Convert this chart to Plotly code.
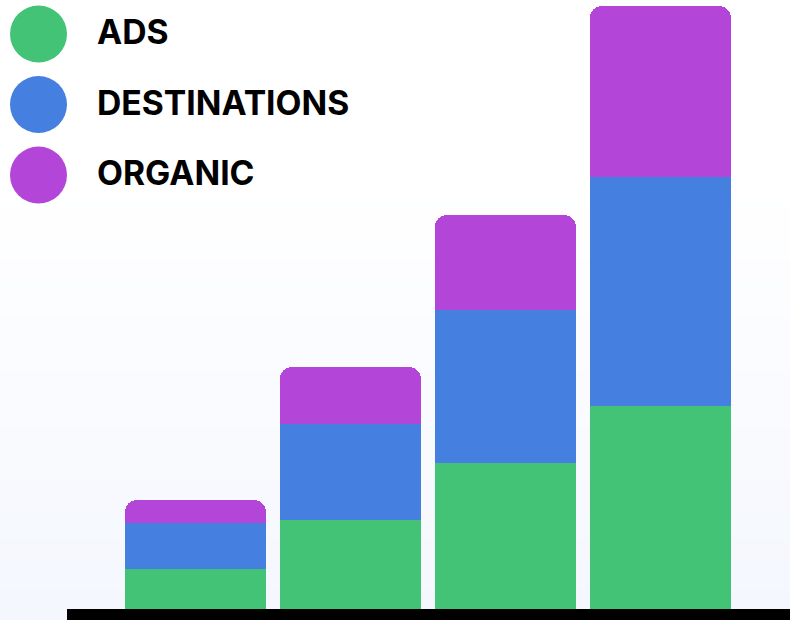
import plotly.graph_objects as go

categories = ["Q1", "Q2", "Q3", "Q4"]
series_names = ["ADS", "DESTINATIONS", "ORGANIC"]
ads = [40, 89, 146, 203]
destinations = [46, 96, 153, 229]
organic = [23, 57, 95, 171]
colors = ["#43C375", "#457FE0", "#B346D9"]

W, H = 790, 620

fig = go.Figure()
for name, vals, col in zip(series_names, [ads, destinations, organic], colors):
    fig.add_trace(go.Bar(
        x=list(range(len(categories))), y=vals, name=name,
        marker=dict(color=col, line=dict(width=0)),
        hovertext=categories, showlegend=False,
    ))

shapes = []
# background vertical gradient (white top -> pale blue bottom)
n = 60
top_c = (255, 255, 255)
bot_c = (244, 247, 254)
g0 = 180 / H
for i in range(n):
    f0 = g0 + (1 - g0) * i / n
    f1 = g0 + (1 - g0) * (i + 1) / n
    t = (i + 0.5) / n
    c = tuple(round(top_c[k] + (bot_c[k] - top_c[k]) * t) for k in range(3))
    shapes.append(dict(type="rect", xref="paper", yref="paper",
                       x0=0, x1=1, y0=1 - f1, y1=1 - f0 + 0.002,
                       fillcolor="rgb(%d,%d,%d)" % c, line=dict(width=0), layer="below"))

# baseline
shapes.append(dict(type="rect", xref="paper", yref="paper",
                   x0=67 / W, x1=1, y0=0, y1=11 / H,
                   fillcolor="#000000", line=dict(width=0), layer="above"))

annotations = []
for i, (name, col) in enumerate(zip(series_names, colors)):
    cy = 34 + i * 70.5
    r = 28.5
    cx = 38.5
    shapes.append(dict(type="circle", xref="paper", yref="paper",
                       x0=(cx - r) / W, x1=(cx + r) / W,
                       y0=1 - (cy + r) / H, y1=1 - (cy - r) / H,
                       fillcolor=col, line=dict(width=0), layer="above"))
    annotations.append(dict(text="<b>%s</b>" % name, xref="paper", yref="paper",
                            x=95 / W, y=1 - (cy - 2.5) / H, xanchor="left", yanchor="middle",
                            showarrow=False,
                            font=dict(family="Inter", size=33.7, color="#000000")))

fig.update_layout(
    width=W, height=H,
    margin=dict(l=0, r=0, t=0, b=0),
    barmode="stack", bargap=0.09, barcornerradius=12,
    paper_bgcolor="#ffffff", plot_bgcolor="rgba(0,0,0,0)",
    xaxis=dict(range=[-1.261, 3.836], visible=False, fixedrange=True),
    yaxis=dict(range=[-11, 609], visible=False, fixedrange=True),
    shapes=shapes, annotations=annotations,
)

fig.write_html("out.html", config={"displayModeBar": False},
               post_script="document.body.style.margin='0';document.body.style.overflow='hidden';")
